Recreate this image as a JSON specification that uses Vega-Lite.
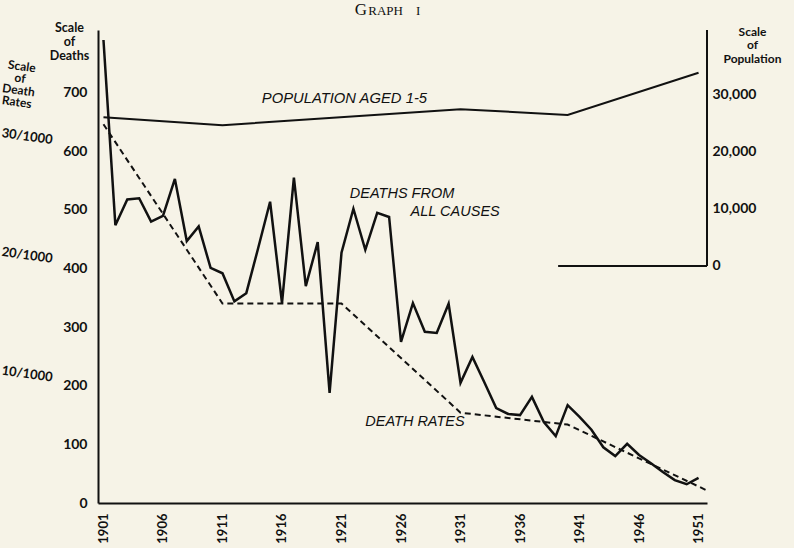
{
  "$schema": "https://vega.github.io/schema/vega-lite/v6.json",
  "width": 609,
  "height": 473,
  "autosize": {"type": "none"},
  "padding": {"left": 98, "top": 30, "right": 87, "bottom": 45},
  "background": "#f6f3e7",
  "config": {
    "view": {"stroke": null},
    "axis": {"grid": false, "labelFont": "Lato", "labelFontWeight": "bold", "labelColor": "#111", "titleFont": "Lato", "titleFontWeight": "bold", "titleColor": "#111", "domainColor": "#111"}
  },
  "datasets": {
    "deaths": [
      {"year": 1901, "deaths": 790}, {"year": 1902, "deaths": 474}, {"year": 1903, "deaths": 518}, {"year": 1904, "deaths": 520},
      {"year": 1905, "deaths": 480}, {"year": 1906, "deaths": 490}, {"year": 1907, "deaths": 553}, {"year": 1908, "deaths": 447},
      {"year": 1909, "deaths": 472}, {"year": 1910, "deaths": 401}, {"year": 1911, "deaths": 392}, {"year": 1912, "deaths": 344},
      {"year": 1913, "deaths": 358}, {"year": 1914, "deaths": 435}, {"year": 1915, "deaths": 514}, {"year": 1916, "deaths": 341},
      {"year": 1917, "deaths": 555}, {"year": 1918, "deaths": 370}, {"year": 1919, "deaths": 445}, {"year": 1920, "deaths": 188},
      {"year": 1921, "deaths": 427}, {"year": 1922, "deaths": 502}, {"year": 1923, "deaths": 432}, {"year": 1924, "deaths": 495},
      {"year": 1925, "deaths": 488}, {"year": 1926, "deaths": 275}, {"year": 1927, "deaths": 341}, {"year": 1928, "deaths": 292},
      {"year": 1929, "deaths": 290}, {"year": 1930, "deaths": 340}, {"year": 1931, "deaths": 205}, {"year": 1932, "deaths": 249},
      {"year": 1933, "deaths": 206}, {"year": 1934, "deaths": 162}, {"year": 1935, "deaths": 152}, {"year": 1936, "deaths": 150},
      {"year": 1937, "deaths": 181}, {"year": 1938, "deaths": 138}, {"year": 1939, "deaths": 114}, {"year": 1940, "deaths": 167},
      {"year": 1941, "deaths": 147}, {"year": 1942, "deaths": 125}, {"year": 1943, "deaths": 95}, {"year": 1944, "deaths": 80},
      {"year": 1945, "deaths": 101}, {"year": 1946, "deaths": 82}, {"year": 1947, "deaths": 68}, {"year": 1948, "deaths": 53},
      {"year": 1949, "deaths": 39}, {"year": 1950, "deaths": 32}, {"year": 1951, "deaths": 43}
    ],
    "rates": [
      {"year": 1901, "rate": 31.3}, {"year": 1911, "rate": 16.2}, {"year": 1921, "rate": 16.2},
      {"year": 1931, "rate": 7.0}, {"year": 1940, "rate": 6.0}, {"year": 1951.6, "rate": 0.5}
    ],
    "population": [
      {"year": 1901, "pop": 26100}, {"year": 1911, "pop": 24700}, {"year": 1931, "pop": 27500},
      {"year": 1940, "pop": 26500}, {"year": 1951, "pop": 33900}
    ],
    "one": [{}]
  },
  "layer": [
    {
      "layer": [
        {
          "data": {"name": "deaths"},
          "mark": {"type": "line", "color": "#111", "strokeWidth": 2.5, "strokeJoin": "miter"},
          "encoding": {
            "x": {
              "field": "year", "type": "quantitative",
              "scale": {"domain": [1900.54, 1951.71], "nice": false, "zero": false},
              "axis": {"values": [1901, 1906, 1911, 1916, 1921, 1926, 1931, 1936, 1941, 1946, 1951], "format": "d", "labelAngle": 270, "labelAlign": "right", "labelBaseline": "middle", "labelPadding": 10, "ticks": false, "tickSize": 0, "domainWidth": 2, "title": null, "labelFontSize": 13, "labelFlush": false, "labelOverlap": false}
            },
            "y": {
              "field": "deaths", "type": "quantitative",
              "scale": {"domain": [0, 807], "nice": false, "zero": false},
              "axis": {"orient": "left", "values": [0, 100, 200, 300, 400, 500, 600, 700], "ticks": false, "tickSize": 0, "labelPadding": 11, "domainWidth": 2, "labelFontSize": 14, "title": ["Scale", "of", "Deaths"], "titleAngle": 0, "titleX": -29, "titleY": -9, "titleAlign": "center", "titleBaseline": "top", "titleFontSize": 12.5, "titleLineHeight": 14}
            }
          }
        },
        {
          "data": {"name": "one"},
          "mark": {"type": "text", "text": "G", "font": "Liberation Serif", "fontSize": 17, "align": "right", "baseline": "alphabetic", "color": "#111"},
          "encoding": {"x": {"datum": 1923.14}, "y": {"datum": 833}}
        },
        {
          "data": {"name": "one"},
          "mark": {"type": "text", "text": "RAPH", "font": "Liberation Serif", "fontSize": 13, "align": "left", "baseline": "alphabetic", "color": "#111"},
          "encoding": {"x": {"datum": 1923.25}, "y": {"datum": 833}}
        },
        {
          "data": {"name": "one"},
          "mark": {"type": "text", "text": "I", "font": "Liberation Serif", "fontSize": 13, "align": "left", "baseline": "alphabetic", "color": "#111"},
          "encoding": {"x": {"datum": 1927.25}, "y": {"datum": 833}}
        },
        {
          "data": {"name": "one"},
          "mark": {"type": "text", "text": "POPULATION AGED 1-5", "font": "Liberation Sans", "fontStyle": "italic", "fontSize": 14.8, "align": "left", "baseline": "middle", "color": "#111"},
          "encoding": {"x": {"datum": 1914.3}, "y": {"datum": 689}}
        },
        {
          "data": {"name": "one"},
          "mark": {"type": "text", "text": "DEATHS FROM", "font": "Liberation Sans", "fontStyle": "italic", "fontSize": 14.5, "align": "left", "baseline": "middle", "color": "#111"},
          "encoding": {"x": {"datum": 1921.7}, "y": {"datum": 527}}
        },
        {
          "data": {"name": "one"},
          "mark": {"type": "text", "text": "ALL CAUSES", "font": "Liberation Sans", "fontStyle": "italic", "fontSize": 14.5, "align": "left", "baseline": "middle", "color": "#111"},
          "encoding": {"x": {"datum": 1926.8}, "y": {"datum": 497}}
        },
        {
          "data": {"name": "one"},
          "mark": {"type": "text", "text": "DEATH RATES", "font": "Liberation Sans", "fontStyle": "italic", "fontSize": 14.5, "align": "left", "baseline": "middle", "color": "#111"},
          "encoding": {"x": {"datum": 1923.0}, "y": {"datum": 138}}
        }
      ]
    },
    {
      "data": {"name": "rates"},
      "mark": {"type": "line", "color": "#111", "strokeWidth": 2, "strokeDash": [6, 4]},
      "encoding": {
        "x": {"field": "year", "type": "quantitative"},
        "y": {
          "field": "rate", "type": "quantitative",
          "scale": {"domain": [-0.607, 39.24], "nice": false, "zero": false},
          "axis": {"orient": "left", "values": [10, 20, 30], "labelExpr": "datum.value + '/1000'", "domain": false, "ticks": false, "tickSize": 0, "labelPadding": 46, "labelFontSize": 13, "labelAngle": 8, "title": ["Scale", "of", "Death", "Rates"], "titleAngle": 8, "titleX": -76, "titleY": 31, "titleAlign": "center", "titleBaseline": "top", "titleFontSize": 12, "titleLineHeight": 12}
        }
      }
    },
    {
      "layer": [
        {
          "data": {"name": "population"},
          "mark": {"type": "line", "color": "#111", "strokeWidth": 2},
          "encoding": {
            "x": {"field": "year", "type": "quantitative"},
            "y": {
              "field": "pop", "type": "quantitative",
              "scale": {"domain": [-41580, 41400], "nice": false, "zero": false},
              "axis": {"orient": "right", "values": [0, 10000, 20000, 30000], "format": ",d", "domain": false, "ticks": false, "tickSize": 0, "labelPadding": 5, "labelFontSize": 14, "title": ["Scale", "of", "Population"], "titleAngle": 0, "titleX": 45, "titleY": -4, "titleAlign": "center", "titleBaseline": "top", "titleFontSize": 12, "titleLineHeight": 13.5}
            }
          }
        },
        {
          "data": {"name": "one"},
          "mark": {"type": "rule", "color": "#111", "strokeWidth": 2},
          "encoding": {"x": {"datum": 1951.71}, "y": {"datum": 0}, "y2": {"datum": 41400}}
        },
        {
          "data": {"name": "one"},
          "mark": {"type": "rule", "color": "#111", "strokeWidth": 2},
          "encoding": {"x": {"datum": 1939.2}, "x2": {"datum": 1951.71}, "y": {"datum": 0}}
        }
      ]
    }
  ],
  "resolve": {"scale": {"y": "independent"}, "axis": {"y": "independent"}}
}
